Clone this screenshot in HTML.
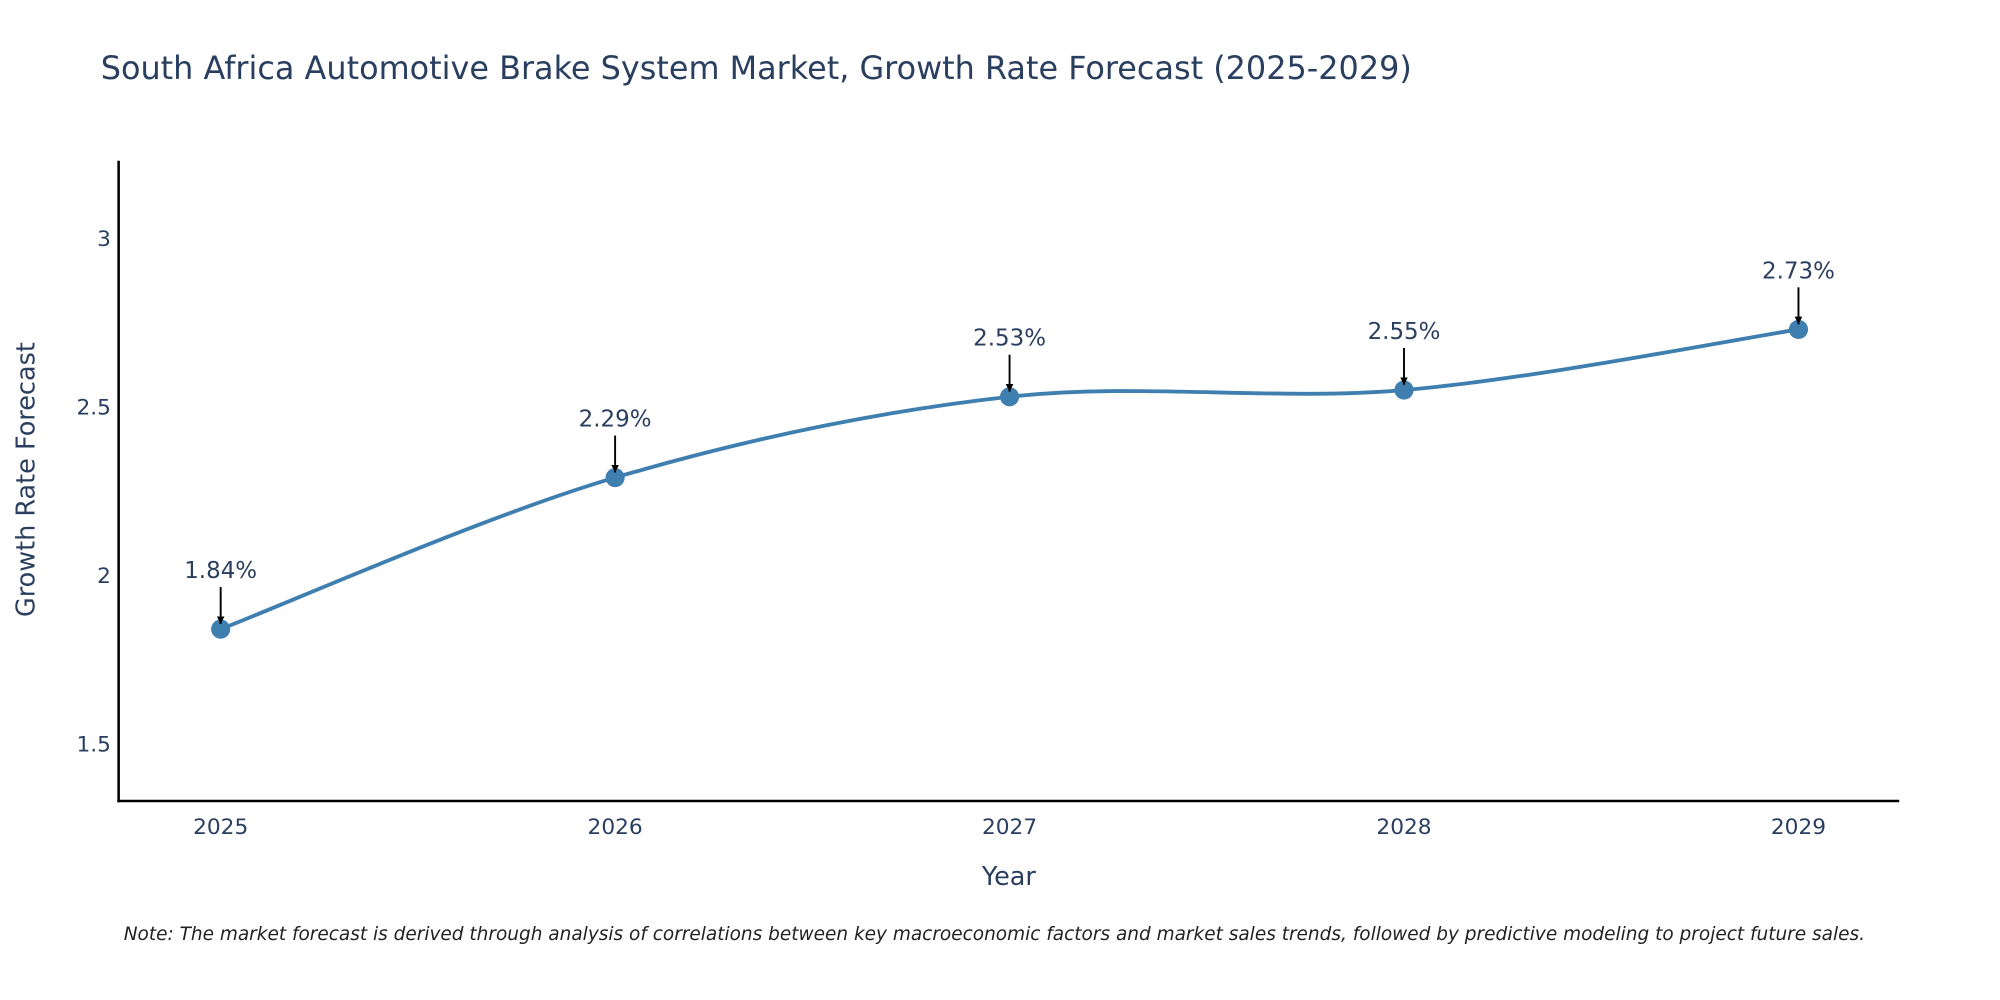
<!DOCTYPE html>
<html><head><meta charset="utf-8"><style>
html,body{margin:0;padding:0;background:#fff;overflow:hidden;}
svg{display:block;font-family:"DejaVu Sans","Liberation Sans",sans-serif;}
</style></head><body>
<svg id="chart" width="2000" height="1000" viewBox="0 0 1568 784" xmlns="http://www.w3.org/2000/svg">
<defs><marker id="arr" viewBox="0 0 10 10" refX="10" refY="5" markerWidth="6" markerHeight="6" markerUnits="userSpaceOnUse" orient="auto"><path d="M0,0L10,5L0,10z" fill="#000"/></marker></defs>
<text x="79" y="62" font-size="25" fill="#2a3f5f">South Africa Automotive Brake System Market, Growth Rate Forecast (2025-2029)</text>
<g id="axes"></g>
<g id="series"></g>
<text x="791" y="694" font-size="20" fill="#2a3f5f" text-anchor="middle">Year</text>
<text transform="translate(27,376) rotate(-90)" font-size="20" fill="#2a3f5f" text-anchor="middle">Growth Rate Forecast</text>
<text x="97" y="737" font-size="14.5" font-style="italic" fill="#222">Note: The market forecast is derived through analysis of correlations between key macroeconomic factors and market sales trends, followed by predictive modeling to project future sales.</text>
</svg>
<script>
const years = ["2025","2026","2027","2028","2029"];
const growth = [1.84, 2.29, 2.53, 2.55, 2.73];
const yTicks = [1.5, 2, 2.5, 3];
const NS="http://www.w3.org/2000/svg";
const X0=173, XSTEP=309.25;
function xs(i){return X0+i*XSTEP;}
function ys(v){return 187+(3-v)*264;}
function mk(tag,attrs,parent){const e=document.createElementNS(NS,tag);for(const k in attrs)e.setAttribute(k,attrs[k]);parent.appendChild(e);return e;}
const ax=document.getElementById('axes'), sr=document.getElementById('series');
let l=mk('line',{x1:93,y1:126,x2:93,y2:629,stroke:'#000','stroke-width':2},ax);


l=mk('line',{x1:92,y1:628,x2:1489,y2:628,stroke:'#000','stroke-width':2},ax);


yTicks.forEach(v=>{const t=mk('text',{x:87,y:ys(v)+6,'font-size':17,fill:'#2a3f5f','text-anchor':'end'},ax);t.textContent=String(v);

});
years.forEach((y,i)=>{const t=mk('text',{x:xs(i),y:654,'font-size':17,fill:'#2a3f5f','text-anchor':'middle'},ax);t.textContent=y;

});
const pts=growth.map((v,i)=>[xs(i),ys(v)]);
let d='M'+pts[0][0]+','+pts[0][1];
for(let i=0;i<pts.length-1;i++){const p0=pts[Math.max(0,i-1)],p1=pts[i],p2=pts[i+1],p3=pts[Math.min(pts.length-1,i+2)];const s=1/6;
d+=` C${p1[0]+(p2[0]-p0[0])*s},${p1[1]+(p2[1]-p0[1])*s} ${p2[0]-(p3[0]-p1[0])*s},${p2[1]-(p3[1]-p1[1])*s} ${p2[0]},${p2[1]}`;}
const line=mk('path',{d:d,fill:'none',stroke:'#3f7fb0','stroke-width':3},sr);


pts.forEach((p,i)=>{const c=mk('circle',{cx:p[0],cy:p[1],r:7.5,fill:'#3f7fb0'},sr);


const a=mk('line',{x1:p[0],y1:p[1]-33,x2:p[0],y2:p[1]-4,stroke:'#000','stroke-width':1.5,'marker-end':'url(#arr)'},sr);


const t=mk('text',{x:p[0],y:p[1]-40,'font-size':18,fill:'#2a3f5f','text-anchor':'middle'},sr);t.textContent=growth[i].toFixed(2)+'%';

});
</script>
</body></html>
